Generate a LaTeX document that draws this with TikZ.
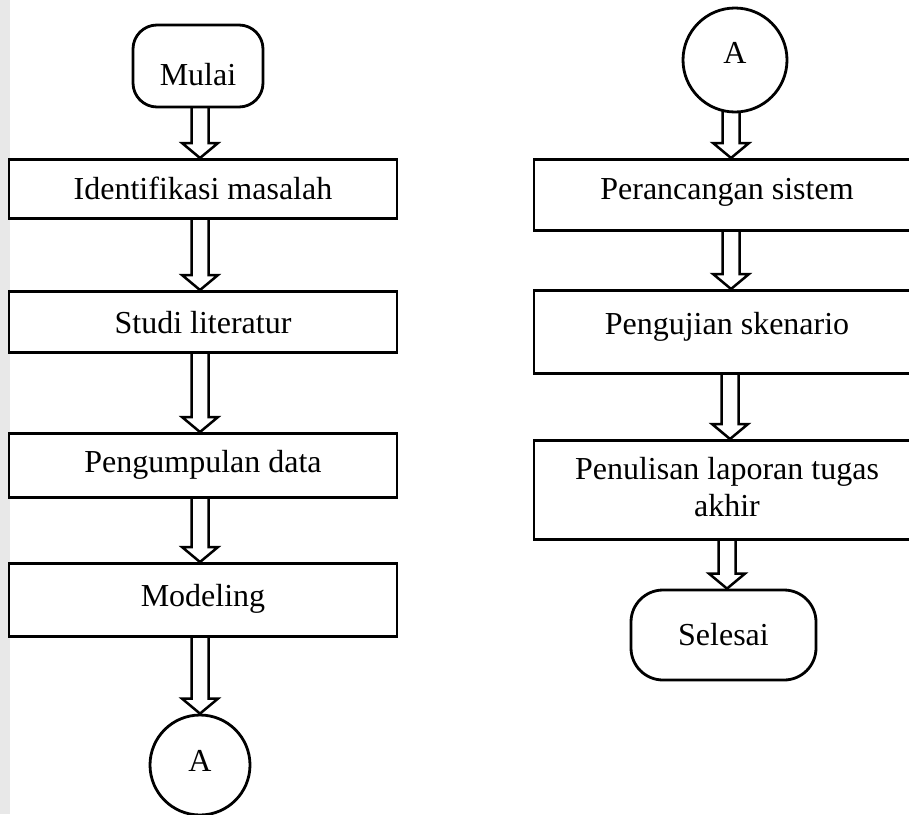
\documentclass[tikz,border=0pt]{standalone}
\usepackage{fontspec}
\setmainfont{Liberation Serif}
\usetikzlibrary{calc}
\pgfdeclarelayer{arrows}
\pgfsetlayers{arrows,main}

\tikzset{
  outline/.style={draw=black, line width=2.8pt, fill=white},
  every node/.style={font=\fontsize{32}{37}\selectfont},
  procbox/.style={outline, rectangle, anchor=north, inner xsep=0pt, inner ysep=0pt,
                  minimum width=#1},
  procbox/.default=388pt,
  termbox/.style={outline, rectangle, rounded corners=#1, inner sep=0pt},
  connector/.style={outline, circle, inner sep=0pt, minimum size=#1},
  arrowbody/.style={draw=black, line width=2.5pt, fill=white, line join=miter},
}

% hollow block arrow from the bottom of #1 to the top of #2, on the vertical line x = #3
\newcommand{\blockarrow}[3]{%
  \begin{pgfonlayer}{arrows}
  \draw[arrowbody] let \p1=(#1.south), \p2=(#2.north) in
    ({(#3-8.5)*1pt},{\y1+10pt}) -- ({(#3-8.5)*1pt},{\y2+15pt})
    -- ({(#3-18)*1pt},{\y2+15pt}) -- ({#3*1pt},\y2)
    -- ({(#3+18)*1pt},{\y2+15pt}) -- ({(#3+8.5)*1pt},{\y2+15pt})
    -- ({(#3+8.5)*1pt},{\y1+10pt});
  \end{pgfonlayer}}

\begin{document}
\begin{tikzpicture}[x=1pt, y=-1pt]
  \useasboundingbox (0,0) rectangle (909,814);
  \fill[gray!18] (0,0) rectangle (10,814);

  % left column
  \node[termbox=24pt, minimum width=130pt, minimum height=82pt, text height=38pt, text depth=0pt]
       (start) at (198,66) {Mulai};
  \node[procbox, text height=40pt, text depth=19pt] (ident) at (203,158) {Identifikasi masalah};
  \node[procbox, text height=42pt, text depth=19pt] (studi) at (203,290) {Studi literatur};
  \node[procbox, text height=39pt, text depth=25pt] (data)  at (203,432) {Pengumpulan data};
  \node[procbox, text height=43pt, text depth=30pt] (model) at (203,562) {Modeling};
  \node[connector=100pt, text depth=8pt] (aout) at (200,765) {A};

  % right column
  \node[connector=104pt, text depth=15pt] (ain) at (735,60) {A};
  \node[procbox=386pt, text height=40pt, text depth=31pt] (design) at (727,158) {Perancangan sistem};
  \node[procbox=386pt, text height=44pt, text depth=39pt] (test)   at (727,289) {Pengujian skenario};
  \node[procbox=386pt, align=center, text height=76pt, text depth=23pt] (report) at (727,439)
       {Penulisan laporan tugas\\akhir};
  \node[termbox=32pt, minimum width=185pt, minimum height=90pt] (stop) at (723.5,635) {Selesai};

  % flow
  \blockarrow{start}{ident}{200}
  \blockarrow{ident}{studi}{200}
  \blockarrow{studi}{data}{200}
  \blockarrow{data}{model}{200}
  \blockarrow{model}{aout}{200}
  \blockarrow{ain}{design}{731}
  \blockarrow{design}{test}{731}
  \blockarrow{test}{report}{730}
  \blockarrow{report}{stop}{727}
\end{tikzpicture}
\end{document}
